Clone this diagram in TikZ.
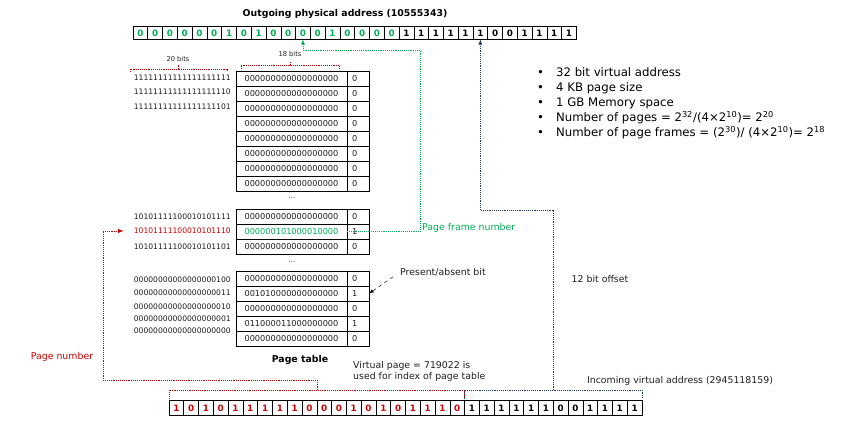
\documentclass[tikz,border=0pt]{standalone}
\usepackage{fontspec}
\setmainfont{DejaVu Sans}
\usetikzlibrary{calc,positioning}
\definecolor{pnred}{RGB}{204,0,0}
\definecolor{pfgreen}{RGB}{0,176,80}
\definecolor{ofblue}{RGB}{31,56,100}
\definecolor{txt}{RGB}{30,30,30}
\tikzset{
	bitcell/.style={draw, line width=0.5pt, outer sep=0pt, inner sep=0pt,
		minimum width=4.434mm, minimum height=3.8mm,
		font=\fontsize{7.5}{8}\selectfont\bfseries},
	pframe/.style={draw, line width=0.6pt, outer sep=0pt, inner sep=0pt,
		minimum width=33.3mm, minimum height=4.5mm, text=txt,
		font=\fontsize{7}{8}\selectfont},
	pbit/.style={draw, line width=0.6pt, outer sep=0pt, inner sep=0pt,
		minimum width=6.6mm, minimum height=4.5mm, text width=3.6mm, align=left,
		text=txt, font=\fontsize{7}{8}\selectfont},
	vpn/.style={anchor=east, inner sep=0pt, text=txt, font=\fontsize{6.5}{8}\selectfont},
	lbl/.style={inner sep=0pt, text=txt, font=\fontsize{8}{9.6}\selectfont},
	heading/.style={inner sep=0pt, text=black, font=\fontsize{8}{9.6}\selectfont\bfseries},
	tiny lbl/.style={inner sep=0pt, text=txt, font=\fontsize{5.7}{6}\selectfont},
	pnline/.style={pnred, densely dotted, line width=0.6pt},
	pfline/.style={pfgreen, densely dotted, line width=0.6pt},
	ofline/.style={ofblue, densely dotted, line width=0.6pt},
}

\begin{document}
\begin{tikzpicture}[>=latex, x=0.3mm, y=-0.3mm]
\useasboundingbox (0,0) rectangle (867,434);

% the addresses
\node[heading] at (345,14) (outtitle) {Outgoing physical address (10555343)};
\foreach [count=\i] \b in {0,0,0,0,0,0,1,0,1,0,0,0,0,1,0,0,0,0,1,1,1,1,1,1,0,0,1,1,1,1}{
	\ifnum\i<19 \def\bc{pfgreen}\else\def\bc{black}\fi
	\node[bitcell, text=\bc] at ({133+(\i-0.5)*14.78},33) (pa\i) {\b};
}
\foreach [count=\i] \b in {1,0,1,0,1,1,1,1,1,0,0,0,1,0,1,0,1,1,1,0,1,1,1,1,1,1,0,0,1,1,1,1}{
	\ifnum\i<21 \def\bc{pnred}\else\def\bc{black}\fi
	\node[bitcell, minimum height=4.5mm, text=\bc] at ({169+(\i-0.5)*14.78},408) (va\i) {\b};
}
\node[lbl] at (680,381) (intitle) {Incoming virtual address (2945118159)};

% the page table
\foreach \i in {1,...,8}{
	\node[pframe] at (291.5,{71+(\i-0.5)*15}) (f\i) {000000000000000000};
	\node[pbit, right=0pt of f\i] (b\i) {0};
}
\node[tiny lbl] at (292,198) (dots1) {...};
\node[pframe] at (291.5,216.5) (f21) {000000000000000000};
\node[pbit, right=0pt of f21] (b21) {0};
\node[pframe, text=pfgreen] at (291.5,231.5) (f22) {000000101000010000};
\node[pbit, right=0pt of f22] (b22) {1};
\node[pframe] at (291.5,246.5) (f23) {000000000000000000};
\node[pbit, right=0pt of f23] (b23) {0};
\node[tiny lbl] at (292,262) (dots2) {...};
\foreach \i/\frm/\bit in {1/000000000000000000/0, 2/001010000000000000/1,
	3/000000000000000000/0, 4/011000011000000000/1, 5/000000000000000000/0}{
	\node[pframe] at (291.5,{271+(\i-0.5)*15}) (f3\i) {\frm};
	\node[pbit, right=0pt of f3\i] (b3\i) {\bit};
}
\node[heading] at (300,360) (ptab) {Page table};

% the page numbers
\foreach \i/\y/\lab in {1/78/11111111111111111111, 2/92/11111111111111111110,
	3/107/11111111111111111101, 21/217/10101111100010101111,
	23/247/10101111100010101101, 31/280/00000000000000000100,
	32/293/00000000000000000011, 33/307/00000000000000000010,
	34/319/00000000000000000001, 35/331/00000000000000000000}
	\node[vpn] at (231,\y) (l\i) {\lab};
\node[vpn, text=pnred] at (231,231) (l22) {10101111100010101110};

% the brackets
\coordinate (bk20) at (178,69);
\draw[pnline] (130,72) |- (bk20) -| (227,72);
\draw[pnline] (bk20) -- ++(0,-4);
\node[tiny lbl] at (178,59) (w20) {20 bits};
\coordinate (bk18) at (290,65);
\draw[pnline] (241,69) |- (bk18) -| (339,69);
\draw[pnline] (bk18) -- ++(0,-3);
\node[tiny lbl] at (290,54) (w18) {18 bits};

\coordinate (pnmid) at (317,390);
\draw[pnline] ($(va1.north west)+(0,-2)$) |- (pnmid) -| ($(va20.north east)+(0,-2)$);
\coordinate (ofmid) at (553,390);
\draw[ofline] ($(va21.north west)+(0,-2)$) |- (ofmid) -| ($(va32.north east)+(0,-2)$);

% the arrows
\coordinate (pnturn) at (103,380);
\draw[pnline, ->] (pnmid) |- (pnturn) |- ([xshift=-3mm]l22.west);
\coordinate (ofturn) at (pa24.south |- 0,210);
\draw[ofline, ->] (ofmid) |- (ofturn) -- (pa24.south);
\coordinate (pfturn) at (420,50);
\draw[pfline, ->] (b22.west) -| (pfturn) -| (pa12.south);

% the labels
\node[lbl, text=pnred] at (62,357) (pnum) {Page number};
\node[lbl, text=pfgreen, anchor=west] at (422,228) (pfnum) {Page frame number};
\node[lbl] at (600,279) (ofs) {12 bit offset};
\node[lbl, anchor=west] at (400,272) (pab) {Present/absent bit};
\draw[->, dashed, shorten <=2.5mm] (pab.west) -- (b32.east);
\node[lbl, anchor=north west, align=left] at (353,361) (vpnote)
	{Virtual page = 719022 is\\used for index of page table};

\node[inner sep=0pt, anchor=north west, text=black, font=\fontsize{10}{12.75}\selectfont]
	at (537,66) (facts) {\begin{tabular}{@{}c@{\hspace{3.6mm}}l@{}}
	\textbullet & 32 bit virtual address\\
	\textbullet & 4 KB page size\\
	\textbullet & 1 GB Memory space\\
	\textbullet & Number of pages = 2\textsuperscript{32}/(4×2\textsuperscript{10})= 2\textsuperscript{20}\\
	\textbullet & Number of page frames = (2\textsuperscript{30})/ (4×2\textsuperscript{10})= 2\textsuperscript{18}
	\end{tabular}};

\end{tikzpicture}
\end{document}
